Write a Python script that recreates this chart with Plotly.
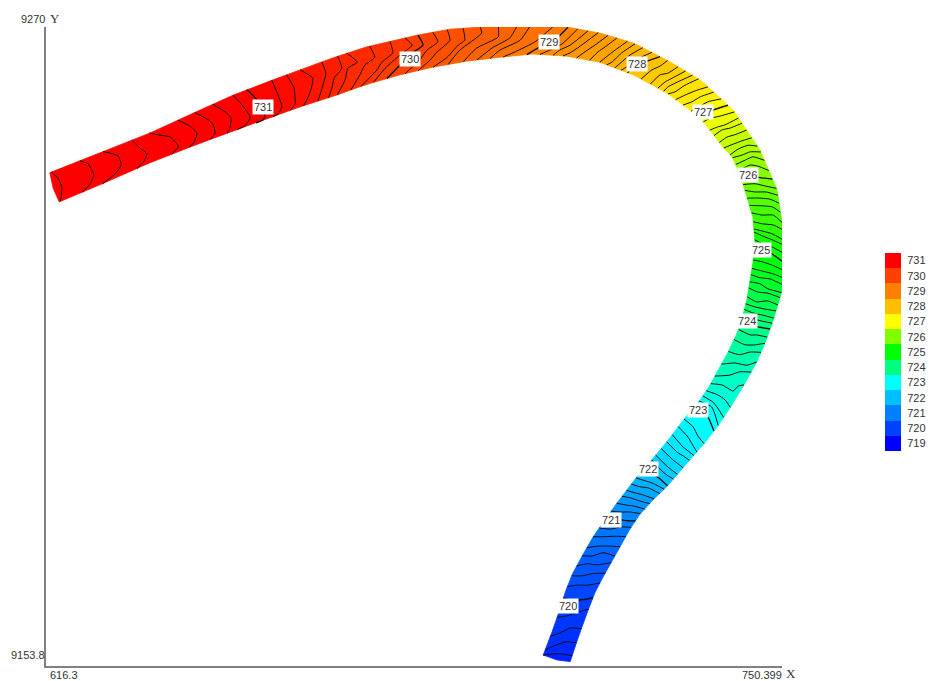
import plotly.graph_objects as go

X_MIN, X_MAX = 616.3, 750.399
Y_MIN, Y_MAX = 9153.8, 9270.0

legend_levels = [719, 720, 721, 722, 723, 724, 725, 726, 727, 728, 729, 730, 731]
legend_colors = [(0, 0, 255), (0, 64, 255), (0, 128, 255), (0, 191, 255), (0, 255, 255),
                 (0, 255, 128), (0, 255, 0), (128, 255, 0), (255, 255, 0), (255, 191, 0),
                 (255, 128, 0), (255, 64, 0), (255, 0, 0)]

label_text = ["731", "730", "729", "728", "727", "726", "725", "724", "723", "722", "721", "720"]
label_x = [655.8, 682.6, 707.9, 724.0, 736.0, 744.2, 746.6, 744.0, 735.1, 726.0, 719.2, 711.4]
label_y = [9255.4, 9264.2, 9267.3, 9263.3, 9254.5, 9243.1, 9229.4, 9216.6, 9200.4, 9189.6, 9180.4, 9164.7]

start_x, start_y = [617.0, 617.6, 618.7], [9243.5, 9240.7, 9238.2]
end_x, end_y = [711.8, 709.4, 706.9], [9154.6, 9154.9, 9155.8]

outer_x = [617.0, 626.1, 635.2, 644.4, 650.4, 657.7, 662.6, 668.6, 674.8, 683.9, 689.9, 695.9,
           705.0, 711.2, 717.2, 723.3, 729.4, 735.5, 741.5, 746.4, 749.5, 750.6, 750.6, 748.8,
           747.3, 745.8, 743.7, 740.9, 738.6, 736.0, 733.1, 729.4, 726.9, 724.5, 722.7, 720.9,
           717.8, 716.3, 714.9, 713.3, 711.8]
outer_y = [9243.5, 9247.1, 9250.7, 9254.9, 9257.6, 9260.4, 9262.2, 9264.4, 9266.4, 9268.5, 9269.6,
           9270.0, 9270.2, 9270.0, 9268.9, 9267.1, 9264.0, 9260.4, 9254.9, 9247.6, 9240.4, 9233.1,
           9222.7, 9216.7, 9212.5, 9209.1, 9205.3, 9200.7, 9197.3, 9194.0, 9190.7, 9186.4, 9184.0,
           9181.4, 9178.7, 9175.5, 9170.0, 9167.1, 9163.5, 9159.1, 9154.6]
inner_x = [618.7, 626.1, 635.2, 644.4, 653.5, 662.6, 668.6, 674.8, 680.8, 686.8, 693.0, 699.0,
           705.0, 711.2, 717.2, 723.3, 729.4, 735.5, 739.6, 741.3, 742.7, 744.0, 745.1, 745.5,
           745.1, 744.0, 742.7, 740.6, 739.1, 737.3, 735.5, 732.7, 730.0, 726.7, 724.5, 720.3,
           716.0, 714.1, 712.3, 711.0, 709.9, 708.5, 706.9]
inner_y = [9238.2, 9241.3, 9245.3, 9248.9, 9252.2, 9255.5, 9257.4, 9259.6, 9261.3, 9262.7, 9263.8,
           9264.5, 9265.1, 9264.7, 9263.6, 9261.3, 9258.0, 9253.5, 9248.2, 9246.4, 9243.4, 9239.1,
           9235.4, 9230.7, 9227.1, 9220.4, 9215.4, 9210.9, 9208.2, 9204.9, 9202.2, 9198.9, 9195.3,
           9191.3, 9188.9, 9183.4, 9177.3, 9174.0, 9170.7, 9167.5, 9164.0, 9160.0, 9155.8]

contour_levels = [
    731.9, 731.8, 731.7, 731.6, 731.5, 731.4, 731.3, 731.2, 731.1, 731.0,
    730.9, 730.8, 730.7, 730.6, 730.5, 730.4, 730.3, 730.2, 730.1, 730.0,
    729.9, 729.8, 729.7, 729.6, 729.5, 729.4, 729.3, 729.2, 729.0,
    728.9, 728.8, 728.7, 728.6, 728.5, 728.4, 728.3, 728.2, 728.1, 728.0,
    727.9, 727.8, 727.7, 727.6, 727.5, 727.4, 727.3, 727.2, 727.0,
    726.9, 726.8, 726.7, 726.6, 726.5, 726.4, 726.3, 726.2, 726.1, 726.0,
    725.9, 725.8, 725.7, 725.6, 725.5, 725.4, 725.3, 725.2, 725.1, 725.0,
    724.9, 724.8, 724.7, 724.6, 724.5, 724.4, 724.3, 724.2, 724.1, 724.0,
    723.9, 723.8, 723.7, 723.6, 723.5, 723.4, 723.3, 723.2, 723.1, 723.0,
    722.9, 722.8, 722.7, 722.6, 722.5, 722.3, 722.2, 722.0,
    721.9, 721.7, 721.6, 721.4, 721.3, 721.2, 721.0,
    720.9, 720.8, 720.7, 720.5, 720.4, 720.3, 720.2, 720.0,
    719.9, 719.8, 719.7, 719.6,
]

contour_x = [
    [617.4, 618.5, 619.2, 618.9],
    [622.5, 624.0, 625.0, 624.3, 622.9],
    [626.7, 629.4, 630.0, 628.9, 626.7],
    [632.0, 633.4, 634.7, 634.0, 632.9],
    [635.2, 636.7, 638.9, 640.4, 639.3],
    [640.4, 642.5, 643.8, 643.3, 642.5],
    [643.4, 645.6, 646.7, 647.1, 646.2],
    [646.7, 648.9, 650.0, 649.8, 649.3],
    [650.4, 652.2, 653.5, 652.7, 651.3],
    [652.9, 654.6, 656.2, 655.8, 654.7],
    [657.5, 658.6, 659.3, 658.6, 657.7],
    [660.2, 661.5, 661.7, 661.7, 660.8],
    [662.6, 664.9, 664.6, 663.9, 663.3],
    [666.6, 667.3, 666.6, 665.9],
    [669.5, 670.2, 668.8, 668.4, 667.7],
    [671.1, 673.0, 671.3, 670.8, 669.3],
    [675.3, 676.2, 674.4, 673.5, 671.7],
    [679.0, 679.5, 677.5, 676.6, 673.7],
    [681.7, 683.0, 680.8, 678.1, 675.9],
    [684.1, 685.0, 683.0, 680.8, 678.4],
    [686.8, 687.7, 685.7, 684.4, 681.7],
    [689.4, 689.9, 687.5, 686.3, 684.1],
    [692.3, 692.6, 691.4, 689.4, 686.8],
    [695.4, 695.7, 691.7, 689.5],
    [698.7, 698.7, 694.8, 692.3],
    [702.1, 700.8, 697.6, 694.8],
    [704.5, 702.7, 699.0, 697.2],
    [708.7, 705.4, 701.8, 699.6],
    [711.4, 709.4, 706.3, 703.9],
    [713.2, 710.3, 708.1, 706.3],
    [715.1, 711.8, 709.9, 708.7],
    [716.9, 713.6, 711.8, 710.5],
    [718.7, 716.3, 714.5, 713.0],
    [720.3, 718.2, 716.9, 715.4],
    [722.3, 720.0, 718.3, 717.2],
    [723.6, 721.2, 719.4, 718.5],
    [725.1, 722.7, 720.9, 720.0],
    [726.7, 724.5, 722.7, 721.1],
    [728.2, 725.8, 723.1, 722.2],
    [729.6, 728.2, 726.7, 724.7],
    [731.4, 729.6, 728.2, 726.4],
    [732.7, 730.4, 729.1, 727.8],
    [734.0, 731.8, 729.6, 728.9],
    [735.1, 732.7, 730.9, 729.6],
    [736.7, 734.6, 732.7, 731.1],
    [737.8, 735.5, 734.0, 732.5],
    [739.1, 736.9, 735.1, 734.0],
    [740.4, 737.8, 736.4, 735.1],
    [741.5, 739.1, 737.3, 736.0],
    [742.4, 740.0, 738.6, 737.3],
    [743.1, 740.9, 739.5, 738.2],
    [744.0, 741.8, 740.4, 739.1],
    [745.1, 743.1, 741.5, 740.0],
    [746.0, 744.2, 742.4, 740.9],
    [746.6, 744.6, 743.1, 741.3],
    [747.3, 745.1, 743.7, 742.2],
    [748.2, 746.0, 744.6, 742.8],
    [748.8, 746.0, 744.6, 743.1],
    [749.5, 747.3, 745.5, 743.8],
    [749.7, 747.5, 745.5, 744.0],
    [750.2, 748.2, 745.8, 744.2],
    [750.6, 748.6, 746.4, 744.6],
    [750.6, 748.8, 746.8, 744.9],
    [750.6, 748.8, 746.9, 745.3],
    [750.6, 748.6, 746.8, 745.5],
    [750.6, 748.6, 746.9, 745.5],
    [750.6, 748.6, 746.8, 745.5],
    [750.6, 748.6, 746.9, 745.5],
    [750.6, 748.6, 746.8, 745.5],
    [750.6, 748.8, 746.9, 745.5],
    [750.4, 748.2, 746.4, 745.1],
    [750.0, 747.8, 746.4, 744.9],
    [749.7, 747.8, 746.0, 744.6],
    [749.5, 747.7, 745.8, 744.2],
    [748.9, 747.3, 745.5, 744.0],
    [748.8, 746.9, 745.1, 743.7],
    [748.4, 746.4, 744.6, 743.3],
    [748.2, 745.8, 744.2, 742.9],
    [747.7, 745.8, 744.6, 742.7],
    [747.3, 745.5, 743.7, 741.8],
    [746.4, 744.6, 742.7, 740.8],
    [745.8, 744.0, 741.8, 739.7],
    [744.7, 742.7, 740.9, 738.4],
    [743.5, 742.4, 741.5, 739.5, 737.5],
    [740.9, 740.0, 738.7, 736.7],
    [739.6, 738.7, 737.8, 736.0],
    [738.7, 738.2, 737.6, 735.5],
    [737.8, 736.7, 735.5, 733.6],
    [736.0, 735.1, 734.2, 732.7],
    [734.9, 734.0, 733.3, 731.8],
    [734.2, 733.3, 732.4, 730.5],
    [733.1, 732.4, 731.4, 729.6],
    [732.2, 731.3, 730.5, 728.7],
    [731.4, 730.5, 729.6, 727.8],
    [730.4, 729.6, 728.7, 727.3],
    [729.4, 728.2, 727.3, 726.0],
    [728.5, 726.7, 725.4, 723.8],
    [727.8, 726.0, 724.5, 722.9],
    [726.9, 725.1, 723.6, 722.0],
    [726.0, 724.5, 722.7, 721.2],
    [725.1, 723.3, 721.8, 720.3],
    [724.5, 722.7, 720.9, 719.2],
    [724.0, 722.3, 720.0, 717.8],
    [723.1, 721.2, 719.1, 717.1],
    [721.8, 720.0, 717.8, 716.0],
    [720.9, 719.1, 716.9, 714.9],
    [719.6, 717.8, 715.8, 714.1],
    [719.1, 716.7, 714.9, 713.0],
    [717.8, 715.8, 714.0, 712.1],
    [716.9, 715.1, 713.0, 711.4],
    [716.0, 713.6, 712.1, 710.5],
    [714.9, 713.2, 711.2, 709.6],
    [713.6, 711.8, 709.9, 708.5],
    [712.5, 710.9, 709.0, 707.4],
    [711.8, 710.3, 709.0, 707.9],
]

contour_y = [
    [9243.3, 9242.5, 9240.9, 9238.4],
    [9245.6, 9245.1, 9243.1, 9241.4, 9239.8],
    [9247.3, 9246.6, 9244.9, 9243.3, 9241.3],
    [9249.3, 9248.0, 9246.9, 9245.4, 9244.2],
    [9250.7, 9250.4, 9250.0, 9248.3, 9246.7],
    [9252.9, 9252.0, 9250.7, 9249.1, 9248.0],
    [9254.5, 9253.3, 9252.4, 9250.7, 9249.6],
    [9256.0, 9254.6, 9253.5, 9251.6, 9250.7],
    [9257.6, 9255.6, 9253.6, 9252.2, 9251.2],
    [9258.7, 9256.9, 9253.8, 9253.1, 9252.2],
    [9260.2, 9257.6, 9255.5, 9254.2, 9253.5],
    [9261.1, 9258.9, 9256.7, 9256.0, 9254.9],
    [9262.2, 9260.7, 9258.7, 9256.9, 9255.5],
    [9263.5, 9261.6, 9258.9, 9256.4],
    [9264.5, 9262.5, 9260.7, 9258.9, 9257.3],
    [9265.3, 9263.6, 9262.5, 9260.4, 9258.0],
    [9266.4, 9264.5, 9263.1, 9261.3, 9258.9],
    [9267.3, 9265.3, 9263.6, 9262.2, 9259.3],
    [9268.0, 9266.7, 9264.9, 9262.5, 9260.2],
    [9268.5, 9266.7, 9265.3, 9263.1, 9260.7],
    [9268.9, 9267.3, 9265.8, 9264.0, 9261.6],
    [9269.5, 9267.6, 9265.4, 9264.0, 9262.2],
    [9269.8, 9267.6, 9266.7, 9264.5, 9262.9],
    [9270.0, 9268.9, 9265.8, 9263.6],
    [9270.2, 9268.2, 9266.2, 9263.8],
    [9270.2, 9268.0, 9266.2, 9264.2],
    [9270.2, 9267.6, 9265.8, 9264.4],
    [9270.2, 9267.3, 9265.5, 9264.5],
    [9270.0, 9268.0, 9266.4, 9265.1],
    [9269.8, 9266.9, 9265.8, 9264.9],
    [9269.5, 9266.7, 9265.8, 9264.9],
    [9268.9, 9266.5, 9265.3, 9264.7],
    [9268.5, 9266.7, 9265.5, 9264.5],
    [9268.0, 9266.4, 9265.5, 9264.3],
    [9267.6, 9265.8, 9264.5, 9263.6],
    [9266.9, 9265.3, 9263.6, 9263.2],
    [9266.4, 9264.9, 9263.4, 9262.7],
    [9265.4, 9264.4, 9263.1, 9262.2],
    [9264.7, 9263.8, 9262.5, 9261.6],
    [9264.0, 9262.9, 9262.2, 9260.5],
    [9262.7, 9261.6, 9261.3, 9259.6],
    [9261.8, 9260.7, 9260.0, 9258.9],
    [9261.1, 9260.2, 9259.1, 9258.4],
    [9260.4, 9259.4, 9258.2, 9257.8],
    [9258.9, 9258.4, 9257.6, 9256.9],
    [9258.0, 9257.3, 9256.4, 9256.0],
    [9256.7, 9256.4, 9255.4, 9254.9],
    [9255.6, 9254.9, 9254.2, 9253.3],
    [9254.4, 9253.8, 9253.4, 9252.7],
    [9253.4, 9252.2, 9251.8, 9251.3],
    [9252.5, 9251.6, 9251.3, 9250.4],
    [9251.3, 9250.4, 9250.0, 9249.1],
    [9250.0, 9249.3, 9248.7, 9248.2],
    [9248.4, 9248.5, 9247.8, 9246.7],
    [9247.3, 9247.3, 9246.7, 9246.2],
    [9245.8, 9246.4, 9245.8, 9245.1],
    [9244.0, 9244.7, 9244.9, 9244.0],
    [9242.4, 9242.7, 9243.6, 9243.1],
    [9240.7, 9241.1, 9241.5, 9241.5],
    [9239.4, 9240.0, 9240.0, 9240.4],
    [9238.0, 9238.7, 9238.9, 9238.9],
    [9236.4, 9237.3, 9237.5, 9237.6],
    [9234.5, 9235.8, 9235.8, 9236.2],
    [9233.1, 9234.0, 9234.2, 9234.6],
    [9231.3, 9232.4, 9232.9, 9233.3],
    [9230.4, 9231.3, 9232.0, 9232.7],
    [9228.9, 9230.0, 9230.6, 9231.3],
    [9227.3, 9228.7, 9229.6, 9230.2],
    [9225.8, 9226.7, 9227.3, 9227.6],
    [9224.4, 9225.1, 9225.6, 9226.0],
    [9223.1, 9224.2, 9224.4, 9224.9],
    [9221.8, 9222.4, 9223.3, 9223.6],
    [9220.9, 9221.6, 9221.8, 9222.5],
    [9219.5, 9220.2, 9220.0, 9220.9],
    [9218.5, 9218.7, 9219.1, 9219.6],
    [9217.1, 9217.6, 9218.0, 9218.6],
    [9216.2, 9216.6, 9217.1, 9217.4],
    [9215.1, 9215.5, 9216.2, 9216.4],
    [9213.6, 9214.0, 9214.0, 9214.9],
    [9212.5, 9212.2, 9212.2, 9213.1],
    [9210.9, 9210.9, 9210.4, 9210.9],
    [9209.1, 9208.5, 9208.9, 9208.5],
    [9207.3, 9207.3, 9206.7, 9206.4],
    [9204.9, 9204.7, 9203.8, 9204.9, 9205.1],
    [9200.9, 9202.2, 9203.1, 9203.8],
    [9199.1, 9200.7, 9201.8, 9202.9],
    [9197.6, 9199.5, 9200.9, 9201.8],
    [9196.7, 9199.5, 9200.4, 9200.4],
    [9194.4, 9195.6, 9197.3, 9198.6],
    [9192.7, 9194.2, 9195.4, 9197.1],
    [9192.2, 9192.9, 9193.6, 9195.8],
    [9191.6, 9192.0, 9192.6, 9194.4],
    [9190.0, 9190.7, 9191.3, 9193.1],
    [9188.6, 9189.3, 9190.0, 9191.8],
    [9188.0, 9188.4, 9189.1, 9190.7],
    [9186.7, 9187.8, 9188.5, 9189.8],
    [9186.4, 9187.1, 9187.5, 9188.0],
    [9185.5, 9186.2, 9186.4, 9186.9],
    [9184.4, 9184.9, 9185.3, 9185.8],
    [9183.6, 9183.8, 9184.4, 9184.7],
    [9182.6, 9182.9, 9183.1, 9183.4],
    [9181.6, 9181.8, 9181.8, 9182.0],
    [9180.0, 9180.2, 9180.5, 9180.2],
    [9178.9, 9179.1, 9178.7, 9178.9],
    [9177.4, 9177.4, 9177.3, 9177.3],
    [9175.5, 9175.6, 9175.6, 9175.3],
    [9174.0, 9174.4, 9173.8, 9173.8],
    [9172.7, 9172.2, 9172.4, 9172.0],
    [9170.9, 9170.6, 9170.2, 9170.2],
    [9169.1, 9168.5, 9168.5, 9168.2],
    [9166.2, 9165.8, 9165.8, 9166.2],
    [9164.2, 9163.6, 9162.9, 9162.6],
    [9160.7, 9160.7, 9159.8, 9159.1],
    [9158.2, 9158.2, 9157.5, 9156.7],
    [9155.8, 9156.0, 9156.0, 9155.4],
]


def colour_at(level):
    level = max(719.0, min(731.0, level))
    i = min(int(level - 719), 11)
    f = level - 719 - i
    a, b = legend_colors[i], legend_colors[i + 1]
    return "rgb(%d,%d,%d)" % tuple(round(a[k] + (b[k] - a[k]) * f) for k in range(3))


def snap(px, py, bx, by):
    """Closest point on a bank polyline, with its position along the polyline."""
    best, best_d = (px, py, 0.0), 1e18
    for i in range(len(bx) - 1):
        dx, dy = bx[i + 1] - bx[i], by[i + 1] - by[i]
        t = ((px - bx[i]) * dx + (py - by[i]) * dy) / (dx * dx + dy * dy)
        t = max(0.0, min(1.0, t))
        qx, qy = bx[i] + t * dx, by[i] + t * dy
        d = (qx - px) ** 2 + (qy - py) ** 2
        if d < best_d:
            best, best_d = (qx, qy, i + t), d
    return best


# every contour runs from bank to bank: its end points sit exactly on the banks
snapped_x, snapped_y, outer_pos, inner_pos = [], [], [], []
for cx, cy in zip(contour_x, contour_y):
    ox, oy, op = snap(cx[0], cy[0], outer_x, outer_y)
    ix, iy, ip = snap(cx[-1], cy[-1], inner_x, inner_y)
    snapped_x.append([ox] + cx[1:-1] + [ix])
    snapped_y.append([oy] + cy[1:-1] + [iy])
    outer_pos.append(op)
    inner_pos.append(ip)


def bank_between(bx, by, a, b):
    """Bank vertices strictly between two positions, walking from a towards b."""
    idx = [k for k in range(len(bx)) if min(a, b) < k < max(a, b)]
    if a > b:
        idx.reverse()
    return [bx[k] for k in idx], [by[k] for k in idx]


fig = go.Figure()

# filled band: one strip between each pair of neighbouring contours
edges_x = [start_x] + snapped_x + [end_x]
edges_y = [start_y] + snapped_y + [end_y]
edge_levels = [732.0] + contour_levels + [719.5]
op_all = [0.0] + outer_pos + [len(outer_x) - 1.0]
ip_all = [0.0] + inner_pos + [len(inner_x) - 1.0]
for i in range(len(edges_x) - 1):
    c = colour_at((edge_levels[i] + edge_levels[i + 1]) / 2)
    ibx, iby = bank_between(inner_x, inner_y, ip_all[i], ip_all[i + 1])
    obx, oby = bank_between(outer_x, outer_y, op_all[i + 1], op_all[i])
    fig.add_trace(go.Scatter(
        x=edges_x[i] + ibx + edges_x[i + 1][::-1] + obx + [edges_x[i][0]],
        y=edges_y[i] + iby + edges_y[i + 1][::-1] + oby + [edges_y[i][0]],
        mode="lines", fill="toself", fillcolor=c, line=dict(color=c, width=0.8),
        hoverinfo="skip", showlegend=False,
    ))

# contour lines
for major in (False, True):
    xs, ys = [], []
    for lv, cx, cy in zip(contour_levels, snapped_x, snapped_y):
        if (lv == int(lv)) == major:
            xs += cx + [None]
            ys += cy + [None]
    fig.add_trace(go.Scatter(x=xs, y=ys, mode="lines",
                             line=dict(color="#101010", width=1.4 if major else 1.0,
                                       shape="spline", smoothing=0.5),
                             hoverinfo="skip", showlegend=False))

# colour legend drawn as a one-column heatmap on its own axes
n = len(legend_levels) - 1
scale = [[i / n, "rgb(%d,%d,%d)" % legend_colors[i]] for i in range(n + 1)]
fig.add_trace(go.Heatmap(x=[0], y=legend_levels, z=[[v] for v in legend_levels],
                         zmin=719, zmax=731, colorscale=scale, showscale=False,
                         xaxis="x2", yaxis="y2", hoverinfo="skip"))

FONT = "Liberation Sans"
TEXT = "#333333"
notes = [dict(x=lx, y=ly, text=t, showarrow=False, bgcolor="white", borderpad=1,
              font=dict(family=FONT, size=11, color=TEXT))
         for t, lx, ly in zip(label_text, label_x, label_y)]


def axis_note(x, y, text, anchor, xs, ys, family=FONT, size=11):
    return dict(x=x, y=y, text=text, showarrow=False, xanchor=anchor, yanchor="middle",
                xshift=xs, yshift=ys, font=dict(family=family, size=size, color=TEXT))


notes += [
    axis_note(X_MIN, Y_MAX, "9270", "right", 1, 8),
    axis_note(X_MIN, Y_MAX, "Y", "left", 2, 8, "Liberation Serif", 13),
    axis_note(X_MIN, Y_MIN, "9153.8", "right", 1, 11),
    axis_note(X_MIN, Y_MIN, "616.3", "left", 2, -9),
    axis_note(X_MAX, Y_MIN, "750.399", "right", 2, -9),
    axis_note(X_MAX, Y_MIN, "X", "left", 2, -7, "Liberation Serif", 13),
]

# the page margin is removed below, so the figure fills the whole window
W, H = 929, 681
fig.update_layout(
    width=W, height=H, margin=dict(l=0, r=0, t=0, b=0),
    paper_bgcolor="white", plot_bgcolor="white", showlegend=False, annotations=notes,
    xaxis=dict(domain=[46 / W, 782 / W], range=[X_MIN, X_MAX], showgrid=False,
               zeroline=False, showticklabels=False, ticks="", showline=True,
               linecolor="#808080", linewidth=1.5),
    yaxis=dict(domain=[1 - 666 / H, 1 - 27 / H], range=[Y_MIN, Y_MAX], showgrid=False,
               zeroline=False, showticklabels=False, ticks="", showline=True,
               linecolor="#808080", linewidth=1.5),
    xaxis2=dict(domain=[885 / W, 901 / W], anchor="y2", visible=False),
    yaxis2=dict(domain=[1 - 451 / H, 1 - 253 / H], anchor="x2", side="right",
                range=[718.5, 731.5], tickvals=legend_levels, ticks="outside", ticklen=3,
                tickcolor="white", showgrid=False, zeroline=False, showline=False,
                tickfont=dict(family=FONT, size=11, color=TEXT)),
)

fig.write_html("out.html", default_width="%dpx" % W, default_height="%dpx" % H,
               config={"displayModeBar": False},
               post_script="document.body.style.margin='0';"
                           "document.documentElement.style.overflow='hidden';")
